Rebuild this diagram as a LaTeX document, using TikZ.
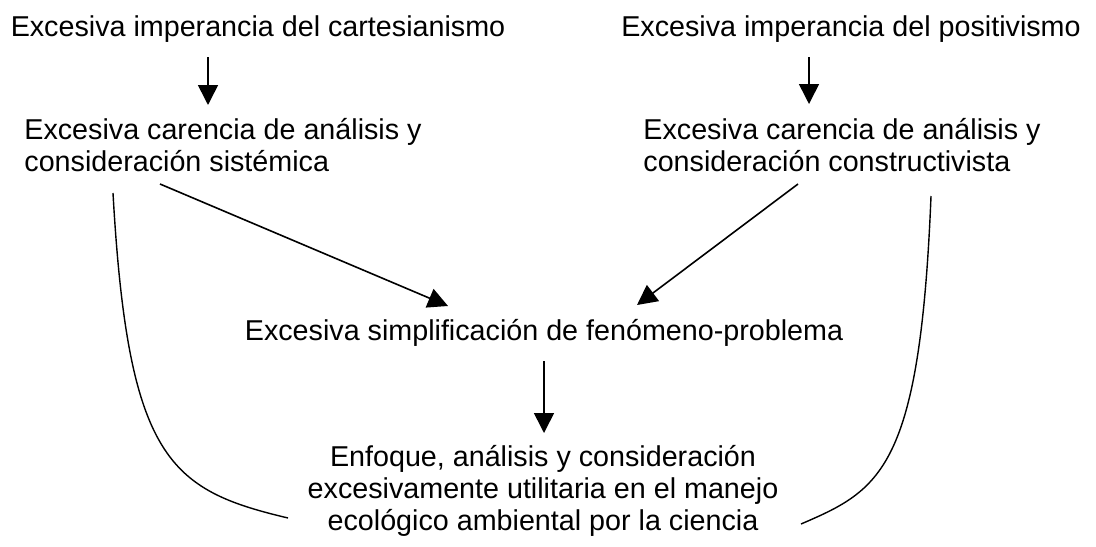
\documentclass[tikz,border=0pt]{standalone}
\usepackage{fontspec}
\setmainfont{Liberation Sans}
\usetikzlibrary{arrows.meta,calc}
\tikzset{
  flow text/.style={inner sep=0pt,font=\fontsize{14.35}{15.8}\selectfont},
  flow left/.style={flow text,align=left},
  flow center/.style={flow text,align=center},
  flow arrow/.style={line width=.8pt,-{Triangle[length=10pt,width=10pt]}},
  flow brace/.style={line width=.7pt}
}
\begin{document}
\begin{tikzpicture}[x=.5pt,y=-.5pt]
  \useasboundingbox (0,0) rectangle (1096,546);
  \node[flow text,anchor=base] (cart) at (258,36) {Excesiva imperancia del cartesianismo};
  \node[flow text,anchor=base] (posit) at (851,36) {Excesiva imperancia del positivismo};
  \node[flow left,anchor=base west] (sist) at (24,171) {Excesiva carencia de análisis y\\consideración sistémica};
  \node[flow left,anchor=base west] (constr) at (643,171) {Excesiva carencia de análisis y\\consideración constructivista};
  \node[flow text,anchor=base] (simpl) at (544,340) {Excesiva simplificación de fenómeno-problema};
  \node[flow center,anchor=base] (util) at (543,530) {Enfoque, análisis y consideración\\excesivamente utilitaria en el manejo\\ecológico ambiental por la ciencia};
  \draw[flow arrow] ($(cart.base)+(-50,21)$) -- ($(sist.base west)+(184,-66)$);
  \draw[flow arrow] ($(posit.base)+(-42,21)$) -- ($(constr.base west)+(166,-67)$);
  \draw[flow arrow] ($(sist.base west)+(136,13)$) -- ($(simpl.base)+(-96,-34)$);
  \draw[flow arrow] ($(constr.base west)+(155,13)$) -- ($(simpl.base)+(93,-35)$);
  \draw[flow arrow] ($(simpl.base)+(0,21)$) -- ($(util.base)+(1,-97)$);
  \draw[flow brace] ($(sist.base west)+(89,22)$) .. controls (128,460) and (170,490) .. ($(util.base)+(-255,-12)$);
  \draw[flow brace] ($(constr.base west)+(288,25)$) .. controls (920,470) and (880,490) .. ($(util.base)+(258,-6)$);
\end{tikzpicture}
\end{document}
